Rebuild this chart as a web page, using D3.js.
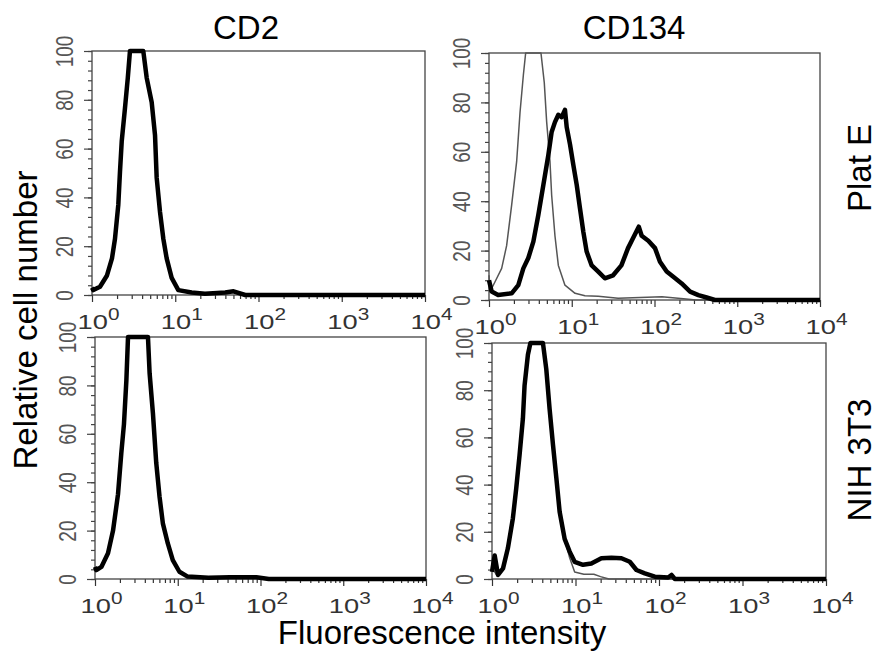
<!DOCTYPE html>
<html>
<head>
<meta charset="utf-8">
<script src="https://cdn.jsdelivr.net/npm/d3@7"></script>
<style>
  body { margin: 0; background: #fff; }
  text { font-family: Arial, "Liberation Sans", Helvetica, sans-serif; }
</style>
</head>
<body>
<svg id="chart" width="878" height="655"></svg>
<script>
// histogram data, x = log10(fluorescence), y = relative cell number
let cd2PlatE_x = [0, 0.016, 0.096, 0.18, 0.24, 0.276, 0.316, 0.336, 0.357, 0.396, 0.43, 0.456, 0.616, 0.657, 0.717, 0.757, 0.777, 0.817, 0.857, 0.897, 0.957, 1.037, 1.197, 1.357, 1.6, 1.7, 1.84, 4]
let cd2PlatE_y = [3, 2, 3.4, 8, 15, 23, 37, 50.5, 63, 76.5, 89, 100, 100, 89, 79, 65.5, 48, 34, 23, 15, 7, 2, 1, 0.5, 1, 1.5, 0, 0]

let ctrlPlatE_x = [0, 0.012, 0.073, 0.153, 0.213, 0.274, 0.334, 0.375, 0.415, 0.443, 0.628, 0.668, 0.697, 0.737, 0.757, 0.797, 0.838, 0.918, 1.04, 1.16, 1.32, 1.56, 2.09, 2.35, 2.5, 4]
let ctrlPlatE_y = [10, 3.4, 7.4, 12.8, 22, 38.5, 56, 76, 91, 100, 100, 88, 72, 56, 42.5, 26, 14, 6, 2.7, 1.7, 1.5, 0.7, 1.3, 0.5, 0, 0]

let cd134PlatE_x = [0, 0.032, 0.11, 0.274, 0.354, 0.415, 0.475, 0.536, 0.596, 0.657, 0.717, 0.757, 0.797, 0.838, 0.878, 0.918, 0.939, 0.979, 1.019, 1.06, 1.1, 1.14, 1.18, 1.241, 1.32, 1.4, 1.5, 1.6, 1.68, 1.74, 1.81, 1.845, 1.925, 2.006, 2.066, 2.147, 2.227, 2.328, 2.43, 2.53, 2.63, 2.73, 4]
let cd134PlatE_y = [8, 3.4, 2, 2.7, 6, 12.8, 17, 23.6, 34.4, 46.6, 58.7, 68, 72, 75, 74, 77, 70, 63, 54.7, 46.6, 37, 27.6, 19.6, 14, 11.5, 8.8, 10, 14, 21, 25, 29.7, 26, 24, 21, 15.5, 11.5, 9.4, 6.7, 3.4, 2, 1, 0, 0]

let cd2NIH_x = [0, 0.016, 0.077, 0.157, 0.218, 0.278, 0.318, 0.35, 0.379, 0.399, 0.64, 0.66, 0.7, 0.74, 0.78, 0.82, 0.88, 0.94, 1.02, 1.12, 1.37, 1.63, 1.83, 1.95, 2.1, 4]
let cd2NIH_y = [5, 3.7, 5, 10.6, 20, 35, 52, 64, 82, 100, 100, 85, 68.5, 48, 34, 23, 14.7, 7.8, 3, 1, 0.5, 0.7, 0.7, 0.7, 0, 0]

let ctrlNIH_x = [0, 0.05, 0.13, 0.19, 0.25, 0.29, 0.33, 0.37, 0.39, 0.43, 0.46, 0.61, 0.65, 0.69, 0.73, 0.77, 0.81, 0.87, 0.93, 0.99, 1.1, 1.22, 1.3, 1.4, 4]
let ctrlNIH_y = [5, 2, 4.5, 13, 25.7, 38.4, 52.5, 68, 82, 95, 100, 100, 89, 72, 57, 43, 28.5, 17, 9, 3, 2, 2, 1, 0, 0]

let cd134NIH_x = [0, 0.032, 0.072, 0.132, 0.19, 0.25, 0.29, 0.33, 0.37, 0.39, 0.43, 0.46, 0.61, 0.65, 0.69, 0.73, 0.77, 0.81, 0.87, 0.93, 0.99, 1.09, 1.19, 1.31, 1.43, 1.55, 1.65, 1.73, 1.83, 1.95, 2.11, 2.15, 2.19, 4]
let cd134NIH_y = [3, 10, 1.7, 4.5, 13, 25.7, 38.4, 52.5, 68, 82, 95, 100, 100, 89, 72, 57, 43, 28.5, 17, 11.6, 7.3, 6, 6.6, 8.8, 9, 8.8, 7.3, 3.8, 2.4, 1, 0.6, 1.7, 0, 0]

let yTicks = [0, 20, 40, 60, 80, 100]
let xDecades = [0, 1, 2, 3, 4]
let colTitles = ["CD2", "CD134"]
let rowTitles = ["Plat E", "NIH 3T3"]

function pts(xs, ys) {
  return xs.map(function (d, i) { return [Math.pow(10, d), ys[i]] })
}

// panel boxes [left, top, right, bottom]
let panels = [
  { box: [92, 51, 425, 295], thin: null, thick: pts(cd2PlatE_x, cd2PlatE_y) },
  { box: [489, 53, 820, 300], thin: pts(ctrlPlatE_x, ctrlPlatE_y), thick: pts(cd134PlatE_x, cd134PlatE_y) },
  { box: [95, 337, 426, 579], thin: null, thick: pts(cd2NIH_x, cd2NIH_y) },
  { box: [492, 343, 826, 579], thin: pts(ctrlNIH_x, ctrlNIH_y), thick: pts(cd134NIH_x, cd134NIH_y) }
]

let svg = d3.select("#chart")

let minorX = []
xDecades.slice(0, 4).forEach(function (e) {
  for (let k = 2; k < 10; k++) minorX.push(k * Math.pow(10, e))
})
let minorY = d3.range(0, 101, 4)

// the scanned tick labels are stretched across the x direction
let sx = 1.3

panels.forEach(function (p) {
  let [x0, y0, x1, y1] = p.box
  let x = d3.scaleLog().domain([1, 1e4]).range([x0, x1])
  let y = d3.scaleLinear().domain([0, 100]).range([y1, y0])
  let g = svg.append("g")

  // y axis: minor ticks, then labelled major ticks
  let gy = g.append("g").attr("transform", "translate(" + x0 + ",0)")
  gy.call(d3.axisLeft(y).tickValues(minorY).tickSize(4).tickFormat(""))
  gy.selectAll("text").remove()
  let gyMajor = gy.append("g").call(d3.axisLeft(y).tickValues(yTicks).tickSize(8))
  gy.selectAll(".domain").remove()
  gy.selectAll("line").attr("stroke", "#444").attr("stroke-width", 1.2)
  gyMajor.selectAll("text")
    .attr("x", 0).attr("dy", null).attr("y", -19 / sx)
    .attr("transform", "rotate(-90) scale(1," + sx + ")")
    .attr("text-anchor", "middle")
    .attr("font-size", 19)
    .attr("fill", "#555")

  // x axis: log minor ticks, then decade labels 10^n
  let gx = g.append("g").attr("transform", "translate(0," + y1 + ")")
  gx.call(d3.axisBottom(x).tickValues(minorX).tickSize(4).tickFormat(""))
  gx.selectAll("text").remove()
  let gxMajor = gx.append("g").call(d3.axisBottom(x).tickValues(xDecades.map(function (e) { return Math.pow(10, e) })).tickSize(7))
  gx.selectAll(".domain").remove()
  gx.selectAll("line").attr("stroke", "#333").attr("stroke-width", 1.2)
  gxMajor.selectAll("text")
    .attr("dy", null).attr("y", 34).attr("x", -11.5)
    .attr("transform", "scale(" + sx + ",1)")
    .attr("text-anchor", "start")
    .attr("font-size", 21)
    .attr("fill", "#333")
    .each(function (d) {
      let t = d3.select(this)
      t.text("10")
      t.append("tspan").attr("dy", -9).attr("font-size", 16).text(Math.round(Math.log10(d)))
    })

  // frame
  g.append("rect")
    .attr("x", x0).attr("y", y0)
    .attr("width", x1 - x0).attr("height", y1 - y0)
    .attr("fill", "none").attr("stroke", "#444").attr("stroke-width", 1.3)

  let line = d3.line()
    .x(function (d) { return x(d[0]) })
    .y(function (d) { return y(d[1]) })

  if (p.thin) {
    g.append("path").datum(p.thin)
      .attr("d", line)
      .attr("fill", "none").attr("stroke", "#555").attr("stroke-width", 1.5)
      .attr("stroke-linejoin", "round")
  }
  g.append("path").datum(p.thick)
    .attr("d", line)
    .attr("fill", "none").attr("stroke", "#000").attr("stroke-width", 4.5)
    .attr("stroke-linejoin", "round")
})

// titles
svg.selectAll(".coltitle").data(colTitles).enter().append("text")
  .attr("x", function (d, i) { return i === 0 ? 246 : 634 })
  .attr("y", 39)
  .attr("text-anchor", "middle")
  .attr("font-size", 33)
  .text(function (d) { return d })

svg.selectAll(".rowtitle").data(rowTitles).enter().append("text")
  .attr("transform", function (d, i) { return "translate(871," + (i === 0 ? 168 : 460) + ") rotate(-90)" })
  .attr("text-anchor", "middle")
  .attr("font-size", 33)
  .text(function (d) { return d })

svg.append("text")
  .attr("transform", "translate(37,320) rotate(-90)")
  .attr("text-anchor", "middle")
  .attr("font-size", 33)
  .text("Relative cell number")

svg.append("text")
  .attr("x", 442).attr("y", 644)
  .attr("text-anchor", "middle")
  .attr("font-size", 33)
  .text("Fluorescence intensity")
</script>
</body>
</html>
